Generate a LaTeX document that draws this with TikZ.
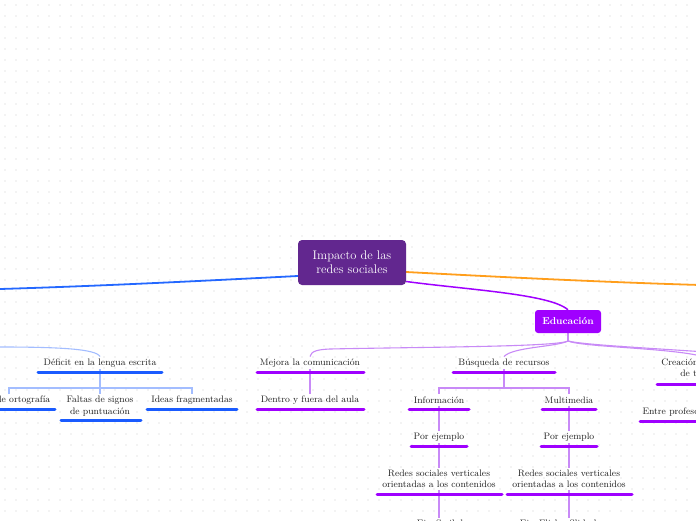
\documentclass[tikz,border=0pt]{standalone}
\usetikzlibrary{backgrounds}
\definecolor{rootc}{HTML}{62278F}
\definecolor{educ}{HTML}{A000FF}
\definecolor{purpul}{HTML}{9F00FF}
\definecolor{purthin}{HTML}{C88AF7}
\definecolor{bluemain}{HTML}{2468FF}
\definecolor{blueul}{HTML}{1A5BFF}
\definecolor{bluethin}{HTML}{A3BDFF}
\definecolor{orangec}{HTML}{FF9E1B}
\definecolor{dotc}{HTML}{E8E8E8}
\definecolor{txtc}{HTML}{222222}
\tikzset{
  rootbox/.style={fill=rootc, rounded corners=4pt, text=white, align=center,
    minimum width=108pt, minimum height=45pt, inner sep=2pt,
    font=\fontsize{12.5}{14}\selectfont},
  edubox/.style={fill=educ, rounded corners=3pt, text=white,
    minimum width=66pt, minimum height=23pt, inner sep=2pt,
    font=\fontsize{10}{12}\selectfont\bfseries},
  txt/.style={text=txtc, align=center, inner sep=2pt,
    font=\fontsize{9.4}{11.5}\selectfont},
  ulp/.style={draw=purpul, line width=3pt, line cap=round},
  ulb/.style={draw=blueul, line width=3pt, line cap=round},
  pthin/.style={draw=purthin, line width=1.1pt},
  bthin/.style={draw=bluethin, line width=1.1pt},
  mainb/.style={draw=bluemain, line width=1.8pt},
  maino/.style={draw=orangec, line width=1.8pt},
  mainp/.style={draw=educ, line width=1.5pt},
}
\begin{document}
\begin{tikzpicture}[x=1pt,y=-1pt]
\useasboundingbox (0,0) rectangle (696,520);
\clip (0,0) rectangle (696,520);
\begin{pgfonlayer}{background}
  \fill[white] (0,0) rectangle (696,520);
  \foreach \i in {0,...,63} {
    \foreach \j in {0,...,47} {
      \fill[dotc] (5+\i*11, 5+\j*11) circle (0.9);
    }
  }
\end{pgfonlayer}

% central and main nodes
\node[rootbox] (root) at (352,262.5) {Impacto de las\\redes sociales};
\node[edubox] (edu) at (568,321.5) {Educaci\'on};

% blue branch
\coordinate (bL) at (0,289);
\coordinate (bL2) at (0,347);
\node[txt] (def) at (100,363) {D\'eficit en la lengua escrita};
\node[txt] (c1) at (9,400) {Faltas de ortograf\'ia};
\node[txt] (c2) at (100,406) {Faltas de signos\\de puntuaci\'on};
\node[txt] (c3) at (192,400) {Ideas fragmentadas};
\coordinate (defj) at (100,388);

% orange branch
\coordinate (oR) at (700,285);

% education branch
\coordinate (ej) at (568,341);
\coordinate (er1) at (720,353);
\node[txt] (mej) at (310,363) {Mejora la comunicaci\'on};
\node[txt] (den) at (310,400) {Dentro y fuera del aula};
\node[txt] (bus) at (504,363) {B\'usqueda de recursos};
\coordinate (busj) at (504,388);
\node[txt] (inf) at (439,400) {Informaci\'on};
\node[txt] (mul) at (569,400) {Multimedia};
\node[txt] (por1) at (439,437) {Por ejemplo};
\node[txt] (por2) at (569,437) {Por ejemplo};
\node[txt] (red1) at (439,479) {Redes sociales verticales\\orientadas a los contenidos};
\node[txt] (red2) at (569,479) {Redes sociales verticales\\orientadas a los contenidos};
\node[txt] (ex1) at (440,524) {Ej.: Scribd};
\node[txt] (ex2) at (566,524) {Ej.: Flickr, Slideshare};
\node[txt] (cre) at (702,368.5) {Creaci\'on de grupos\\de trabajo};
\node[txt] (ent) at (700,412) {Entre profesores y alumnos};

% underlines
\draw[ulb] (38,372) -- (162,372);
\draw[ulb] (-40,409) -- (55,409);
\draw[ulb] (61,420) -- (141,420);
\draw[ulb] (147,409) -- (237,409);
\draw[ulp] (257,372) -- (364,372);
\draw[ulp] (257,409) -- (364,409);
\draw[ulp] (453,372) -- (555,372);
\draw[ulp] (409,409) -- (469,409);
\draw[ulp] (542,409) -- (596,409);
\draw[ulp] (411,446) -- (467,446);
\draw[ulp] (541,446) -- (597,446);
\draw[ulp] (377,494) -- (502,494);
\draw[ulp] (507,494) -- (632,494);
\draw[ulp] (657,384) -- (760,384);
\draw[ulp] (640,421) -- (760,421);

\begin{pgfonlayer}{background}
  % main branches
  \draw[mainb] ([yshift=-13.5pt]root.west) .. controls (200,281) and (100,286) .. (bL);
  \draw[maino] ([yshift=-9.5pt]root.east) .. controls (500,277) and (600,282) .. (oR);
  \draw[mainp] ([yshift=-19pt]root.east) .. controls (470,290) and (550,294) .. (edu.north);
  % blue subtree
  \draw[bthin] (bL2) .. controls (60,347) and (96,349) .. (def.north);
  \draw[bthin] (def.south) -- (defj) -| (c1.north);
  \draw[bthin] (defj) -| (c3.north);
  \draw[bthin] (defj) -- (c2.north);
  % education subtree
  \draw[pthin] (edu.south) -- (ej);
  \draw[pthin] (ej) .. controls (556,347) and (420,347) .. (330,349)
     .. controls (318,349.5) and (311,351) .. (mej.north);
  \draw[pthin] (ej) .. controls (556,347) and (512,347) .. (bus.north);
  \draw[pthin] (ej) .. controls (582,347) and (670,348) .. (cre.north);
  \draw[pthin] (ej) .. controls (585,345) and (650,348) .. (er1);
  \draw[pthin] (mej.south) -- (den.north);
  \draw[pthin] (bus.south) -- (busj) -| (inf.north);
  \draw[pthin] (busj) -| (mul.north);
  \draw[pthin] (inf.south) -- (por1.north);
  \draw[pthin] (mul.south) -- (por2.north);
  \draw[pthin] (por1.south) -- (red1.north);
  \draw[pthin] (por2.south) -- (red2.north);
  \draw[pthin] (red1.south) -- (ex1.north -| red1.south);
  \draw[pthin] (red2.south) -- (ex2.north -| red2.south);
  \draw[pthin] (cre.south) -- (ent.north -| cre.south);
\end{pgfonlayer}
\end{tikzpicture}
\end{document}
